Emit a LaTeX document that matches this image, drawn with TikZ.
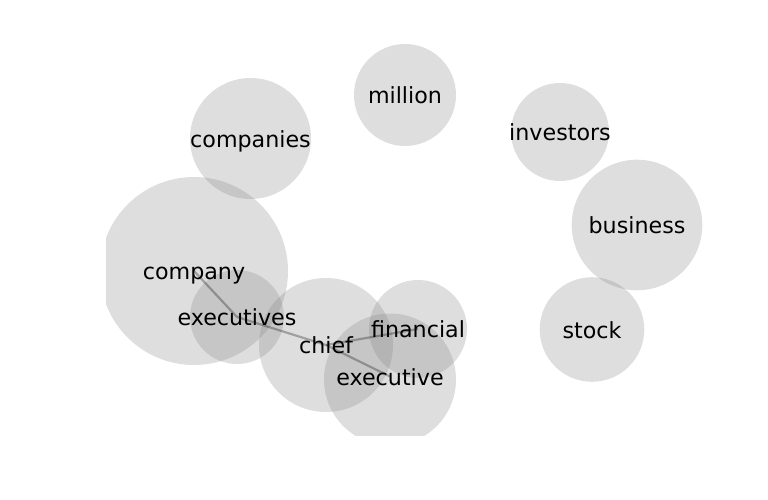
\documentclass[tikz,border=0pt]{standalone}
\usepackage{fontspec}
\usepackage{tikz}
\usetikzlibrary{backgrounds}
\newfontfamily\wordfont{DejaVu Sans}
\pgfdeclarelayer{bubbles}
\pgfdeclarelayer{links}
\pgfsetlayers{bubbles,links,main}

\begin{document}
\begin{tikzpicture}[
    x=1pt, y=-1pt,
    word/.style={font=\wordfont\fontsize{22.2}{26}\selectfont, inner sep=0pt,
      text height=17pt, text depth=0pt, text=black},
    bubble/.style={fill=gray, fill opacity=0.26},
    link/.style={draw=black, draw opacity=0.28, line width=2.2pt}
]
  \useasboundingbox (0,0) rectangle (768,500);

  \node[word] (million) at (405,95) {million};
  \node[word] (companies) at (250.5,138.5) {companies};
  \node[word] (investors) at (560,132) {investors};
  \node[word] (business) at (637,225) {business};
  \node[word] (company) at (194,271) {company};
  \node[word] (executives) at (237,317) {executives};
  \node[word] (chief) at (326,345) {chief};
  \node[word] (financial) at (418,329) {financial};
  \node[word] (executive) at (390,376.5) {executive};
  \node[word] (stock) at (592,329.5) {stock};

  \begin{pgfonlayer}{bubbles}
    \clip (106,0) rectangle (768,435);
    \fill[bubble] (million) circle[radius=51pt];
    \fill[bubble] (companies) circle[radius=60.5pt];
    \fill[bubble] (investors) circle[radius=49pt];
    \fill[bubble] (business) circle[radius=65.3pt];
    \fill[bubble] (company) circle[radius=94pt];
    \fill[bubble] (executives) circle[radius=47pt];
    \fill[bubble] (chief) circle[radius=67pt];
    \fill[bubble] (financial) circle[radius=49pt];
    \fill[bubble] ([yshift=-3pt]executive.center) circle[radius=66pt];
    \fill[bubble] (stock) circle[radius=52.3pt];
  \end{pgfonlayer}

  \begin{pgfonlayer}{links}
    \draw[link] (company.center) -- (executives.center);
    \draw[link] (executives.center) -- (chief.center);
    \draw[link] (chief.center) -- (financial.center);
    \draw[link] (chief.center) -- (executive.center);
  \end{pgfonlayer}
\end{tikzpicture}
\end{document}
